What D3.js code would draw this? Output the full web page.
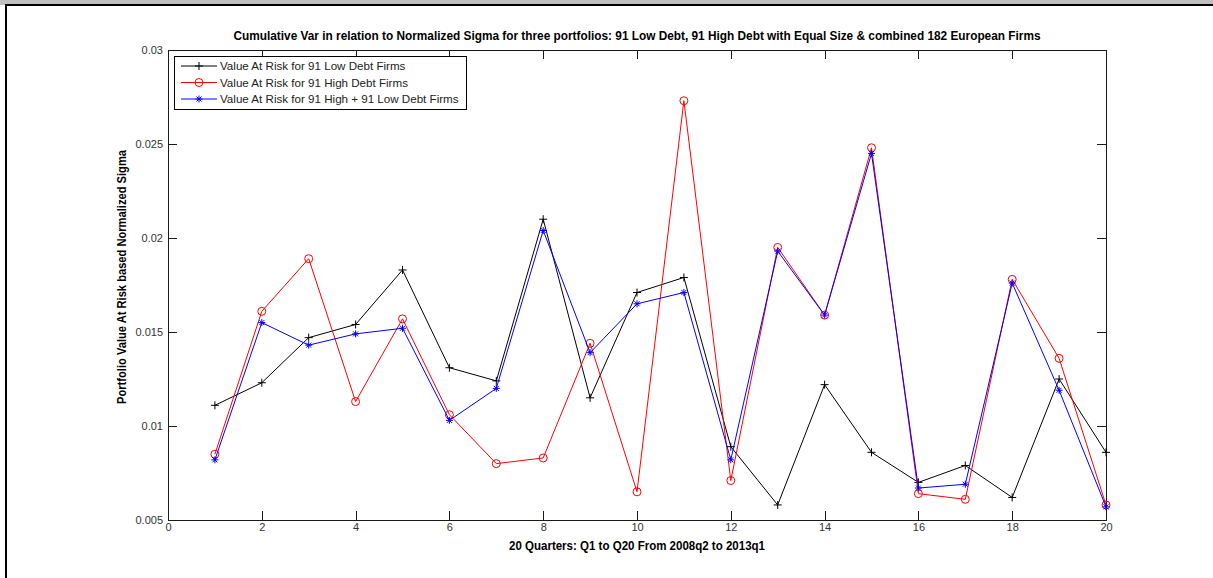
<!DOCTYPE html>
<html>
<head>
<meta charset="utf-8">
<script src="https://cdn.jsdelivr.net/npm/d3@7"></script>
<style>
  body { margin: 0; background: #fff; }
  text { font-family: "Liberation Sans", Arial, sans-serif; }
  .axis path, .axis line { stroke: #1a1a1a; shape-rendering: crispEdges; }
  .axis text { font-size: 11px; fill: #333; }
</style>
</head>
<body>
<div id="chart"></div>
<script>
// Data
var quarters = [1, 2, 3, 4, 5, 6, 7, 8, 9, 10, 11, 12, 13, 14, 15, 16, 17, 18, 19, 20];
var lowDebt = [0.0111, 0.0123, 0.0147, 0.0154, 0.0183, 0.0131, 0.0124, 0.0210, 0.0115, 0.0171,
               0.0179, 0.0089, 0.0058, 0.0122, 0.0086, 0.0070, 0.0079, 0.0062, 0.0125, 0.0086];
var highDebt = [0.0085, 0.0161, 0.0189, 0.0113, 0.0157, 0.0106, 0.0080, 0.0083, 0.0144, 0.0065,
                0.0273, 0.0071, 0.0195, 0.0159, 0.0248, 0.0064, 0.0061, 0.0178, 0.0136, 0.0058];
var combined = [0.0082, 0.0155, 0.0143, 0.0149, 0.0152, 0.0103, 0.0120, 0.0204, 0.0139, 0.0165,
                0.0171, 0.0082, 0.0193, 0.0159, 0.0245, 0.0067, 0.0069, 0.0176, 0.0119, 0.0057];
var seriesNames = ["Value At Risk for 91 Low Debt Firms",
                   "Value At Risk for 91 High Debt Firms",
                   "Value At Risk for 91 High + 91 Low Debt Firms"];
var xTicks = [0, 2, 4, 6, 8, 10, 12, 14, 16, 18, 20];
var yTicks = [0.005, 0.01, 0.015, 0.02, 0.025, 0.03];
var yTickLabels = ["0.005", "0.01", "0.015", "0.02", "0.025", "0.03"];

var titleText = "Cumulative Var in relation to Normalized Sigma for three portfolios: 91 Low Debt, 91 High Debt with Equal Size & combined 182 European Firms";
var xLabelText = "20 Quarters: Q1 to Q20 From 2008q2 to 2013q1";
var yLabelText = "Portfolio Value At Risk based Normalized Sigma";

// svg dimensions
var svgWidth = 1213;
var svgHeight = 578;

var margin = { top: 50, right: 107, bottom: 58, left: 168 };
var width = svgWidth - margin.left - margin.right;
var height = svgHeight - margin.top - margin.bottom;

var svg = d3.select("#chart")
  .append("svg")
  .attr("width", svgWidth)
  .attr("height", svgHeight);

// page frame (grey strip on top, black border lines)
svg.append("rect")
  .attr("x", 0).attr("y", 0)
  .attr("width", svgWidth).attr("height", 5)
  .attr("fill", "#c0c0c0");
svg.append("line")
  .attr("x1", 5).attr("x2", svgWidth)
  .attr("y1", 5).attr("y2", 5)
  .attr("stroke", "#000").attr("stroke-width", 2);
svg.append("line")
  .attr("x1", 6).attr("x2", 6)
  .attr("y1", 5).attr("y2", svgHeight)
  .attr("stroke", "#000").attr("stroke-width", 2);

var chartGroup = svg.append("g")
  .attr("transform", `translate(${margin.left}, ${margin.top})`);

// scales
var xScale = d3.scaleLinear().domain([0, 20]).range([0, width]);
var yScale = d3.scaleLinear().domain([0.005, 0.03]).range([height, 0]);

// axes, matlab style: ticks pointing inwards on all four sides
chartGroup.append("g")
  .attr("class", "axis")
  .attr("transform", `translate(0, ${height})`)
  .call(d3.axisBottom(xScale).tickValues(xTicks).tickSizeInner(-9).tickSizeOuter(0).tickPadding(3));

chartGroup.append("g")
  .attr("class", "axis")
  .call(d3.axisLeft(yScale).tickValues(yTicks).tickSizeInner(-9).tickSizeOuter(0).tickPadding(5)
    .tickFormat((d, i) => yTickLabels[i]));

chartGroup.append("g")
  .attr("class", "axis")
  .call(d3.axisTop(xScale).tickValues(xTicks).tickSizeInner(-9).tickSizeOuter(0).tickFormat(""));

chartGroup.append("g")
  .attr("class", "axis")
  .attr("transform", `translate(${width}, 0)`)
  .call(d3.axisRight(yScale).tickValues(yTicks).tickSizeInner(-9).tickSizeOuter(0).tickFormat(""));

// title and axis labels
svg.append("text")
  .attr("x", margin.left + width / 2)
  .attr("y", 40)
  .attr("text-anchor", "middle")
  .attr("font-size", "12px")
  .attr("font-weight", "bold")
  .attr("textLength", 807)
  .attr("lengthAdjust", "spacingAndGlyphs")
  .text(titleText);

svg.append("text")
  .attr("x", margin.left + width / 2)
  .attr("y", 550)
  .attr("text-anchor", "middle")
  .attr("font-size", "12px")
  .attr("font-weight", "bold")
  .attr("textLength", 256)
  .attr("lengthAdjust", "spacingAndGlyphs")
  .text(xLabelText);

svg.append("text")
  .attr("transform", "rotate(-90)")
  .attr("x", -277)
  .attr("y", 126)
  .attr("text-anchor", "middle")
  .attr("font-size", "12px")
  .attr("font-weight", "bold")
  .attr("textLength", 254)
  .attr("lengthAdjust", "spacingAndGlyphs")
  .text(yLabelText);

// marker shapes
function drawMarker(g, type, color) {
  if (type === "plus") {
    g.append("line").attr("x1", -4).attr("x2", 4).attr("y1", 0).attr("y2", 0);
    g.append("line").attr("x1", 0).attr("x2", 0).attr("y1", -4).attr("y2", 4);
  }
  if (type === "star") {
    g.append("line").attr("x1", -3.5).attr("x2", 3.5).attr("y1", 0).attr("y2", 0);
    g.append("line").attr("x1", 0).attr("x2", 0).attr("y1", -3.5).attr("y2", 3.5);
    g.append("line").attr("x1", -2.5).attr("x2", 2.5).attr("y1", -2.5).attr("y2", 2.5);
    g.append("line").attr("x1", -2.5).attr("x2", 2.5).attr("y1", 2.5).attr("y2", -2.5);
  }
  if (type === "circle") {
    g.append("circle").attr("r", 4).attr("fill", "none");
  }
  g.selectAll("line, circle").attr("stroke", color).attr("stroke-width", 1);
}

var series = [
  { name: seriesNames[0], values: lowDebt, color: "#000000", marker: "plus" },
  { name: seriesNames[1], values: highDebt, color: "#ff0000", marker: "circle" },
  { name: seriesNames[2], values: combined, color: "#0000ff", marker: "star" }
];

var line = d3.line()
  .x(d => xScale(d.q))
  .y(d => yScale(d.v));

series.forEach(function(s) {
  var pts = quarters.map((q, i) => ({ q: q, v: s.values[i] }));

  chartGroup.append("path")
    .datum(pts)
    .attr("d", line)
    .attr("fill", "none")
    .attr("stroke", s.color)
    .attr("stroke-width", 1);

  chartGroup.selectAll(null)
    .data(pts)
    .enter()
    .append("g")
    .attr("transform", d => `translate(${xScale(d.q)}, ${yScale(d.v)})`)
    .each(function() { drawMarker(d3.select(this), s.marker, s.color); });
});

// legend
var legend = svg.append("g")
  .attr("transform", "translate(174, 56)");

legend.append("rect")
  .attr("x", 0.5).attr("y", 0.5)
  .attr("width", 292).attr("height", 53)
  .attr("fill", "#fff")
  .attr("stroke", "#000")
  .attr("shape-rendering", "crispEdges");

series.forEach(function(s, i) {
  var row = legend.append("g")
    .attr("transform", `translate(0, ${10 + i * 16.5})`);
  row.append("line")
    .attr("x1", 7).attr("x2", 43)
    .attr("y1", 0).attr("y2", 0)
    .attr("stroke", s.color);
  drawMarker(row.append("g").attr("transform", "translate(25, 0)"), s.marker, s.color);
  row.append("text")
    .attr("x", 46)
    .attr("y", 4)
    .attr("font-size", "11.6px")
    .attr("fill", "#222")
    .text(s.name);
});
</script>
</body>
</html>
